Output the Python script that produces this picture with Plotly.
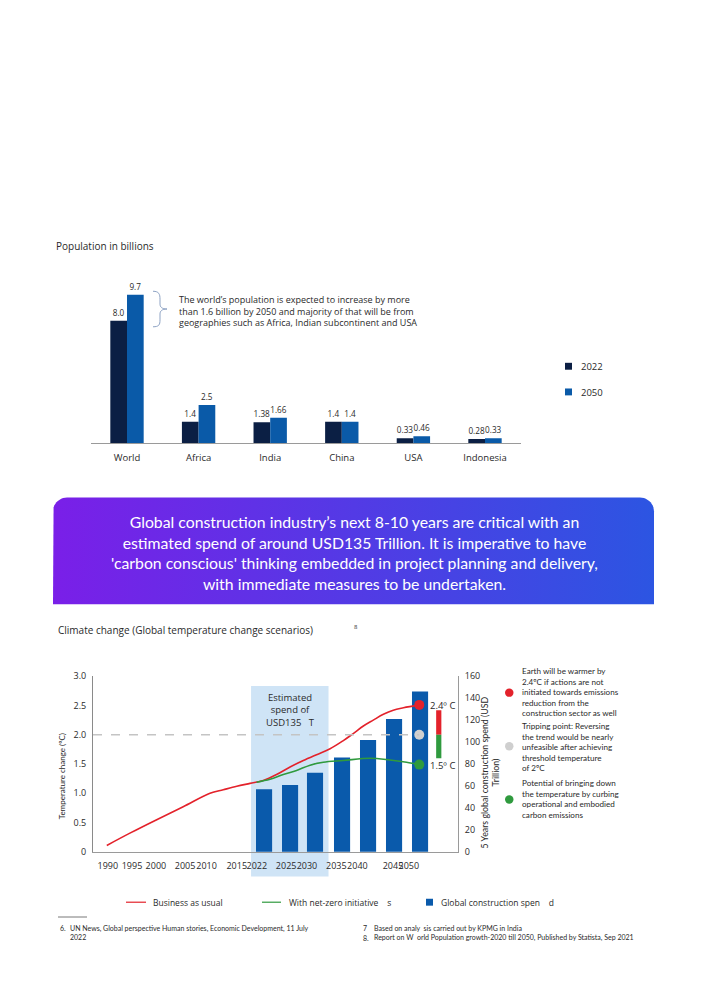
import numpy as np
import plotly.graph_objects as go

W, H = 708, 1000
def px(x): return x / W
def py(y): return 1 - y / H

FONT = "Open Sans"
NARROW = "Lato"
TXT = "#2a2a2a"

# ---------------- Population chart data ----------------
regions = ["World", "Africa", "India", "China", "USA", "Indonesia"]
pop_2022 = [8.0, 1.4, 1.38, 1.4, 0.33, 0.28]
pop_2050 = [9.7, 2.5, 1.66, 1.4, 0.46, 0.33]
pop_2022_labels = ["8.0", "1.4", "1.38", "1.4", "0.33", "0.28"]
pop_2050_labels = ["9.7", "2.5", "1.66", "1.4", "0.46", "0.33"]

# ---------------- Climate chart data ----------------
# x positions on the chart's (non-uniform) time scale
x_tick_pos = [0.57, 1.5, 2.42, 3.54, 4.37, 5.53, 6.3, 7.43, 8.23, 9.36, 10.17, 11.54, 12.15]
x_tick_labels = ["1990", "1995", "2000", "2005", "2010", "2015", "2022",
                 "2025", "2030", "2035", "2040", "2045", "2050"]

bau_pos = [0.53, 1.42, 2.45, 3.47, 4.5, 5.01, 5.53, 6.04, 6.55, 7.06, 7.58, 8.09,
           8.6, 9.12, 9.63, 10.01, 10.4, 10.78, 11.17, 11.55, 11.94, 12.55]
bau_temp = [0.11, 0.32, 0.55, 0.77, 1.0, 1.06, 1.12, 1.17, 1.22, 1.32, 1.45, 1.56,
            1.66, 1.76, 1.9, 2.02, 2.15, 2.25, 2.35, 2.42, 2.46, 2.51]

nz_pos = [6.29, 6.81, 7.32, 7.83, 8.35, 8.86, 9.63, 10.65, 11.42, 12.06, 12.55]
nz_temp = [1.19, 1.24, 1.32, 1.39, 1.48, 1.53, 1.56, 1.6, 1.57, 1.53, 1.49]

spend_pos = [6.58, 7.58, 8.54, 9.58, 10.58, 11.58, 12.58]
spend = [57, 61, 72, 86, 102, 121, 146]

threshold_temp = 2.0
temp_ticks = [0, 0.5, 1.0, 1.5, 2.0, 2.5, 3.0]
temp_tick_text = ["0", "0.5", "1.0", "1.5", "2.0", "2.5", "3.0"]
spend_ticks = [0, 20, 40, 60, 80, 100, 120, 140, 160]

fig = go.Figure()

# ---- population bars
fig.add_trace(go.Bar(x=regions, y=pop_2022, name="2022", marker=dict(color="#0b1f44", line_width=0),
                     text=pop_2022_labels, textposition="outside",
                     constraintext="none", cliponaxis=False,
                     textfont=dict(size=8.2, color=TXT, family=FONT), xaxis="x", yaxis="y"))
fig.add_trace(go.Bar(x=regions, y=pop_2050, name="2050", marker=dict(color="#0a5aa8", line_width=0),
                     text=pop_2050_labels, textposition="outside",
                     constraintext="none", cliponaxis=False,
                     textfont=dict(size=8.2, color=TXT, family=FONT), xaxis="x", yaxis="y"))

# ---- climate spend bars (right axis, y2)
fig.add_trace(go.Bar(x=spend_pos, y=spend, width=0.62, marker=dict(color="#0a5aab", line_width=0),
                     name="Global construction spend", xaxis="x2", yaxis="y2"))
# ---- temperature lines (left axis, y3 overlaying)
fig.add_trace(go.Scatter(x=bau_pos, y=bau_temp, mode="lines", name="Business as usual",
                         line=dict(color="#e3222b", width=1.6, shape="spline"), xaxis="x2", yaxis="y3"))
fig.add_trace(go.Scatter(x=nz_pos, y=nz_temp, mode="lines", name="With net-zero initiatives",
                         line=dict(color="#2f9a3e", width=1.6, shape="spline"), xaxis="x2", yaxis="y3"))
end_x = bau_pos[-1]
fig.add_trace(go.Scatter(x=[end_x, end_x, end_x], y=[bau_temp[-1], threshold_temp, nz_temp[-1]],
                         mode="markers", marker=dict(size=10, color=["#e3222b", "#cfcfcf", "#2f9a3e"]),
                         xaxis="x2", yaxis="y3", cliponaxis=False))

# ---- banner with gradient (page pixel overlay axes)
r = 14
L, R, T, B = 53, 654, 497, 605
a1 = np.linspace(np.pi, 1.5 * np.pi, 12)
a2 = np.linspace(1.5 * np.pi, 2 * np.pi, 12)
bx = [L] + list(L + r + r * np.cos(a1)) + list(R - r + r * np.cos(a2)) + [R, L]
by = [B] + list(T + r + r * np.sin(a1)) + list(T + r + r * np.sin(a2)) + [B, B]
fig.add_trace(go.Scatter(x=bx, y=by, mode="lines", fill="toself", line=dict(width=0),
                         fillgradient=dict(type="horizontal",
                                           colorscale=[[0, "#7a1fe8"], [1, "#2c55e2"]]),
                         xaxis="x3", yaxis="y4", hoverinfo="skip"))

fig.update_layout(
    width=W, height=H, margin=dict(l=0, r=0, t=0, b=0),
    paper_bgcolor="white", plot_bgcolor="rgba(0,0,0,0)",
    showlegend=False, barmode="group", bargap=0.534, bargroupgap=0,
    font=dict(family=FONT, color=TXT, size=9),
    xaxis=dict(domain=[px(91.2), px(520.8)], anchor="y", showline=True, linecolor="#9a9a9a",
               linewidth=1, ticks="", showgrid=False, tickfont=dict(size=9.5, color=TXT),
               ticklabelstandoff=5, fixedrange=True),
    yaxis=dict(domain=[py(442), py(442 - 10.5 * 15.5)], range=[0, 10.5], anchor="x",
               visible=False, showgrid=False),
    xaxis2=dict(domain=[px(93), px(458)], range=[0, 14.04], anchor="y2", showline=True,
                linecolor="#9a9a9a", linewidth=1, showgrid=False, zeroline=False,
                tickmode="array", tickvals=x_tick_pos, ticktext=x_tick_labels, tickangle=0,
                ticks="", tickfont=dict(size=9, color=TXT), ticklabelstandoff=5),
    yaxis2=dict(domain=[py(856), py(678)], range=[0, 160], anchor="x2", side="right",
                showline=True, linecolor="#9a9a9a", linewidth=1, showgrid=False, zeroline=False,
                tickmode="array", tickvals=spend_ticks, ticks="", tickfont=dict(size=9, color=TXT),
                ticklabelstandoff=4),
    yaxis3=dict(range=[0, 3], overlaying="y2", anchor="x2", side="left", showline=True,
                linecolor="#8a8a8a", linewidth=1, showgrid=False, zeroline=False,
                tickmode="array", tickvals=temp_ticks, ticktext=temp_tick_text, ticks="",
                tickfont=dict(size=9, color=TXT), ticklabelstandoff=4),
    xaxis3=dict(domain=[0, 1], range=[0, W], anchor="y4", visible=False, fixedrange=True),
    yaxis4=dict(domain=[0, 1], range=[H, 0], anchor="x3", visible=False, fixedrange=True),
)

shapes = []
# shaded spend period
shapes.append(dict(type="rect", xref="x2", yref="paper", x0=6.08, x1=9.06, y0=py(881), y1=py(688),
                   fillcolor="#cfe4f6", line=dict(width=0), layer="below"))
# threshold dashed line
shapes.append(dict(type="line", xref="x2", yref="y3", x0=0, x1=end_x, y0=threshold_temp, y1=threshold_temp,
                   line=dict(color="#c4c4c4", width=1.5, dash="dash")))
# range indicator bars
shapes.append(dict(type="rect", xref="x2", yref="y3", x0=13.2, x1=13.4, y0=threshold_temp, y1=2.42,
                   fillcolor="#e3222b", line=dict(width=0)))
shapes.append(dict(type="rect", xref="x2", yref="y3", x0=13.2, x1=13.4, y0=1.6, y1=threshold_temp,
                   fillcolor="#2f9a3e", line=dict(width=0)))
# brace
shapes.append(dict(type="path", xref="x3", yref="y4",
                   path="M153,288 C159,288 160,291 160,296 L160,301 C160,304 162,306 167,306 "
                        "C162,306 160,308 160,311 L160,317 C160,322 159,324 153,324",
                   line=dict(color="#8ea3c4", width=1)))
# top legend squares
shapes.append(dict(type="rect", xref="x3", yref="y4", x0=565, x1=572, y0=360.5, y1=367.5,
                   fillcolor="#0b1f44", line=dict(width=0)))
shapes.append(dict(type="rect", xref="x3", yref="y4", x0=565, x1=572, y0=386.5, y1=393.5,
                   fillcolor="#0a5aa8", line=dict(width=0)))
# right-side explanation dots
for yy, col in [(694.7, "#e3222b"), (749, "#cfcfcf"), (803, "#2f9a3e")]:
    shapes.append(dict(type="circle", xref="x3", yref="y4", x0=505, x1=513.5, y0=yy - 4.25, y1=yy + 4.25,
                       fillcolor=col, line=dict(width=0)))
# bottom legend
shapes.append(dict(type="line", xref="x3", yref="y4", x0=126, x1=146, y0=907, y1=907,
                   line=dict(color="#e3222b", width=1.2)))
shapes.append(dict(type="line", xref="x3", yref="y4", x0=262, x1=281, y0=907, y1=907,
                   line=dict(color="#2f9a3e", width=1.2)))
shapes.append(dict(type="rect", xref="x3", yref="y4", x0=426, x1=433, y0=903.5, y1=910.5,
                   fillcolor="#0a5aab", line=dict(width=0)))
# footnote rule
shapes.append(dict(type="line", xref="x3", yref="y4", x0=58, x1=87, y0=922, y1=922,
                   line=dict(color="#555555", width=0.8)))
fig.update_layout(shapes=shapes)

ann = []
def A(x, y, text, size=9, color=TXT, family=FONT, xanchor="left", align="left", **kw):
    ann.append(dict(xref="x3", yref="y4", x=x, y=y, text=text, showarrow=False,
                    font=dict(size=size, color=color, family=family),
                    xanchor=xanchor, yanchor="middle", align=align, **kw))

A(54, 242, "Population in billions", size=10)
A(177, 307.5, "The world’s population is expected to increase by more<br>"
              "than 1.6 billion by 2050 and majority of that will be from<br>"
              "geographies such as Africa, Indian subcontinent and USA", size=9)
A(579, 364, "2022", size=9.5)
A(579, 390.5, "2050", size=9.5)

A(354, 553, "Global construction industry’s next 8-10 years are critical with an<br>"
            "estimated spend of around USD135 Trillion. It is imperative to have<br>"
            "'carbon conscious' thinking embedded in project planning and delivery,<br>"
            "with immediate measures to be undertaken.",
  size=15.8, color="white", family=NARROW, xanchor="center", align="center")

A(56, 631.5, "Climate change (Global temperature change scenarios)", size=10)
A(352, 628, "8", size=6)

A(290, 712, "Estimated<br>spend of<br>USD135&nbsp;&nbsp;&nbsp;T", size=9.5, xanchor="center", align="center")
A(428, 707.5, "2.4º C", size=9.5)
A(428, 768, "1.5º C", size=9.5)

A(61.5, 780, "Temperature change (ºC)", size=8, family=NARROW, xanchor="center", align="center",
  textangle=-90)
A(489.5, 776, "5 Years global construction spend (USD<br>Trillion)", size=8.8, family=NARROW,
  xanchor="center", align="center", textangle=-90)

A(520, 694.5, "Earth will be warmer by<br>2.4ºC if actions are not<br>initiated towards emissions<br>"
              "reduction from the<br>construction sector as well", size=8.1, family=NARROW)
A(520, 750, "Tripping point: Reversing<br>the trend would be nearly<br>unfeasible after achieving<br>"
            "threshold temperature<br>of 2ºC", size=8.1, family=NARROW)
A(520, 802.5, "Potential of bringing down<br>the temperature by curbing<br>operational and embodied<br>"
              "carbon emissions", size=8.1, family=NARROW)

A(151, 907, "Business as usual", size=8.5)
A(287, 907, "With net-zero initiative&nbsp;&nbsp;&nbsp;&nbsp;s", size=8.5)
A(439, 907, "Global construction spen&nbsp;&nbsp;&nbsp;&nbsp;d", size=8.5)

A(58, 933, "6.", size=7, family=NARROW)
A(68, 938, "UN News, Global perspective Human stories, Economic Development, 11 July<br>2022",
  size=7, family=NARROW)
A(361, 933, "7", size=7, family=NARROW)
A(372, 933, "Based on analy&nbsp;&nbsp;sis carried out by KPMG in India", size=7, family=NARROW)
A(361, 943, "8.", size=7, family=NARROW)
A(372, 943, "Report on W&nbsp;&nbsp;orld Population growth-2020 till 2050, Published by Statista, Sep 2021",
  size=7, family=NARROW)

fig.update_layout(annotations=ann)

fig.write_html("out.html", config={"displayModeBar": False},
               post_script="document.body.style.margin='0';document.body.style.overflow='hidden';")
